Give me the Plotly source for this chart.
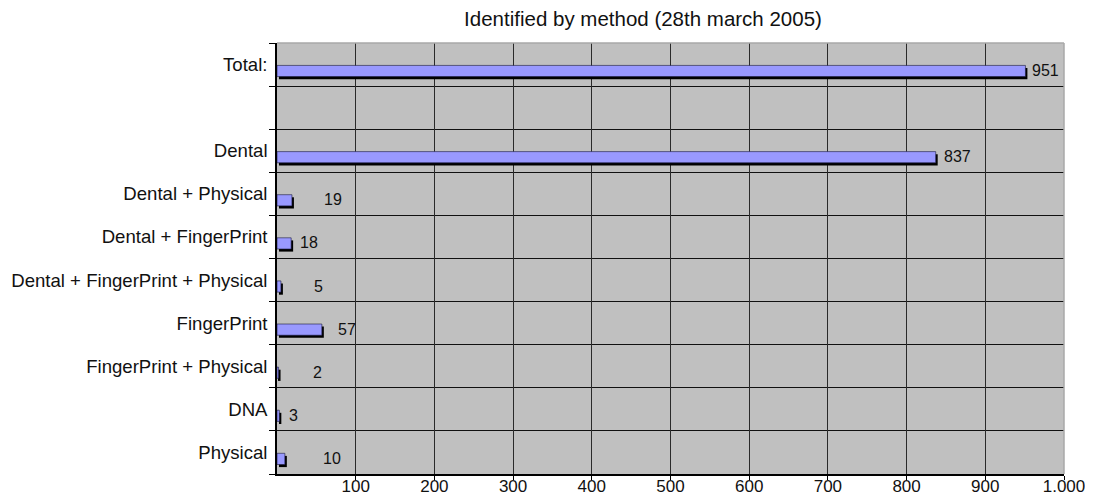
import plotly.graph_objects as go

categories = ["Total:", "", "Dental", "Dental + Physical", "Dental + FingerPrint",
              "Dental + FingerPrint + Physical", "FingerPrint", "FingerPrint + Physical",
              "DNA", "Physical"]
values = [951, None, 837, 19, 18, 5, 57, 2, 3, 10]
x_ticks = [100, 200, 300, 400, 500, 600, 700, 800, 900, 1000]
title_text = "Identified by method (28th march 2005)"

# styling: pixel gap between bar end and its value label (as in the reference)
label_gap = [5, 0, 6, 30, 7, 31, 14, 32, 8, 36]

positions = list(range(len(categories)))
idx = [i for i, v in enumerate(values) if v is not None]
bar_pos = [positions[i] for i in idx]
bar_val = [values[i] for i in idx]

FONT = "Liberation Sans, Arial, sans-serif"
BAR_W = 0.26
SHADOW_DX = 2.5
# page body has an 8px default margin
W, H = 1085, 488

fig = go.Figure()
# shadow (3D effect)
fig.add_trace(go.Bar(
    y=bar_pos, x=bar_val, base=SHADOW_DX, orientation="h",
    width=BAR_W, offset=0.08,
    marker=dict(color="#000000", line=dict(width=0)),
    hoverinfo="skip", showlegend=False,
))
# main bars
fig.add_trace(go.Bar(
    y=bar_pos, x=bar_val, orientation="h",
    width=BAR_W, offset=0.02,
    marker=dict(color="#9999FF", line=dict(color="#1a1a3a", width=0.6)),
    showlegend=False,
))

for i in idx:
    fig.add_annotation(
        x=values[i], y=positions[i] + 0.14, text=str(values[i]),
        xanchor="left", yanchor="middle", showarrow=False,
        xshift=label_gap[i], font=dict(family=FONT, size=16, color="#111111"),
    )

fig.update_layout(
    width=W, height=H,
    margin=dict(l=269, r=29, t=35, b=22, autoexpand=False),
    paper_bgcolor="white", plot_bgcolor="#C0C0C0",
    barmode="overlay",
    separators=",.",
    font=dict(family=FONT, color="#111111"),
    title=dict(text=title_text, x=635 / W, xanchor="center", xref="container",
               y=1 - 4 / H, yanchor="top", yref="container",
               font=dict(family=FONT, size=20.5, color="#111111")),
    xaxis=dict(
        range=[0, 1000], tickvals=x_ticks, tickformat=",d",
        showgrid=True, gridcolor="#2a2a2a", gridwidth=1,
        showline=True, linecolor="#000000", linewidth=1.5,
        ticks="outside", ticklen=4, tickcolor="#000000",
        tickfont=dict(family=FONT, size=17, color="#111111"),
        ticklabelstandoff=-8,
        zeroline=False, fixedrange=True, automargin=False,
    ),
    yaxis=dict(
        range=[len(categories) - 0.5, -0.5],
        tickvals=positions, ticktext=categories,
        showgrid=False, ticks="",
        showline=True, linecolor="#000000", linewidth=1.5,
        tickfont=dict(family=FONT, size=18.6, color="#111111"),
        ticklabelstandoff=4,
        zeroline=False, automargin=False,
        minor=dict(tick0=0.5, dtick=1, showgrid=True, gridcolor="#111111",
                   gridwidth=1, ticks="outside", ticklen=6, tickcolor="#000000"),
    ),
    shapes=[
        dict(type="line", xref="paper", yref="paper", x0=0, x1=1, y0=1, y1=1,
             line=dict(color="#A8A8A8", width=1.5), layer="above"),
        dict(type="line", xref="paper", yref="paper", x0=1, x1=1, y0=0, y1=1,
             line=dict(color="#A8A8A8", width=1.5), layer="above"),
    ],
)

fig.write_html("out.html")
